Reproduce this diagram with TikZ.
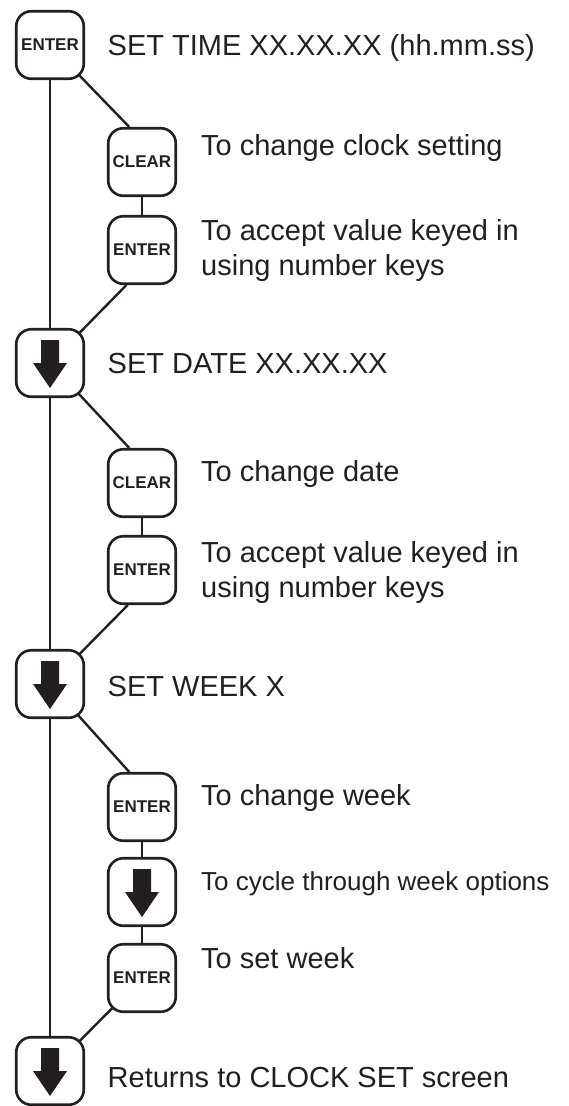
\documentclass[tikz,border=0pt]{standalone}
\usepackage{fontspec}
\setmainfont{Liberation Sans}
\usetikzlibrary{backgrounds}
\definecolor{ink}{HTML}{231F20}
\begin{document}
\begin{tikzpicture}[x=1pt,y=-1pt,
  key/.style={draw=ink, fill=white, line width=2.6pt, rounded corners=15pt,
    minimum width=67.5pt, minimum height=67.5pt, inner sep=0pt,
    font=\bfseries\fontsize{17}{17}\selectfont, text=ink},
  arrowkey/.style={key, path picture={\fill[ink, sharp corners, shift={(path picture bounding box.center)}]
    (-9,-23) -- (9,-23) -- (9,0) -- (17,0) -- (0,25) -- (-17,0) -- (-9,0) -- cycle;}},
  wire/.style={draw=ink, line width=2.4pt},
  lbl/.style={font=\fontsize{29}{35}\selectfont, text=ink, inner sep=0pt, anchor=base west},
  lbltwo/.style={font=\fontsize{29}{35}\selectfont, text=ink, inner sep=0pt, anchor=north west, align=left},
  lblsmall/.style={font=\fontsize{26}{31}\selectfont, text=ink, inner sep=0pt, anchor=base west}
]
\useasboundingbox (0,0) rectangle (569,1106);

% main keys
\node[key] (m1) at (50,45) {ENTER};
\node[arrowkey] (m2) at (50,363) {};
\node[arrowkey] (m3) at (50,684) {};
\node[arrowkey] (m4) at (50,1071) {};

% sub keys
\node[key] (s1) at (142,162) {CLEAR};
\node[key] (s2) at (142,250) {ENTER};
\node[key] (s3) at (142,483) {CLEAR};
\node[key] (s4) at (142,570) {ENTER};
\node[key] (s5) at (142,807) {ENTER};
\node[arrowkey] (s6) at (142,892) {};
\node[key] (s7) at (142,978) {ENTER};

% texts
\node[lbl] (t1) at (107.5,55) {SET TIME XX.XX.XX (hh.mm.ss)};
\node[lbl] (t2) at (107.5,373) {SET DATE XX.XX.XX};
\node[lbl] (t3) at (107.5,696) {SET WEEK X};
\node[lbl] (t4) at (107.5,1087) {Returns to CLOCK SET screen};
\node[lbl] (u1) at (201,155) {To change clock setting};
\node[lbltwo] (u2) at (201,219) {To accept value keyed in\\using number keys};
\node[lbl] (u3) at (201,481) {To change date};
\node[lbltwo] (u4) at (201,541) {To accept value keyed in\\using number keys};
\node[lbl] (u5) at (201,805) {To change week};
\node[lblsmall] (u6) at (201,890) {To cycle through week options};
\node[lbl] (u7) at (201,968) {To set week};

\begin{pgfonlayer}{background}
  \draw[wire] (m1.center) -- (m2.center) -- (m3.center) -- (m4.center);
  \draw[wire] (m1.center) -- (s1.110);
  \draw[wire] (s1.center) -- (s2.center);
  \draw[wire] (s2.246) -- (m2.center);
  \draw[wire] (m2.center) -- (s3.110);
  \draw[wire] (s3.center) -- (s4.center);
  \draw[wire] (s4.248) -- (m3.center);
  \draw[wire] (m3.center) -- (s5.110);
  \draw[wire] (s5.center) -- (s6.center) -- (s7.center);
  \draw[wire] (s7.center) -- (m4.center);
\end{pgfonlayer}
\end{tikzpicture}
\end{document}
